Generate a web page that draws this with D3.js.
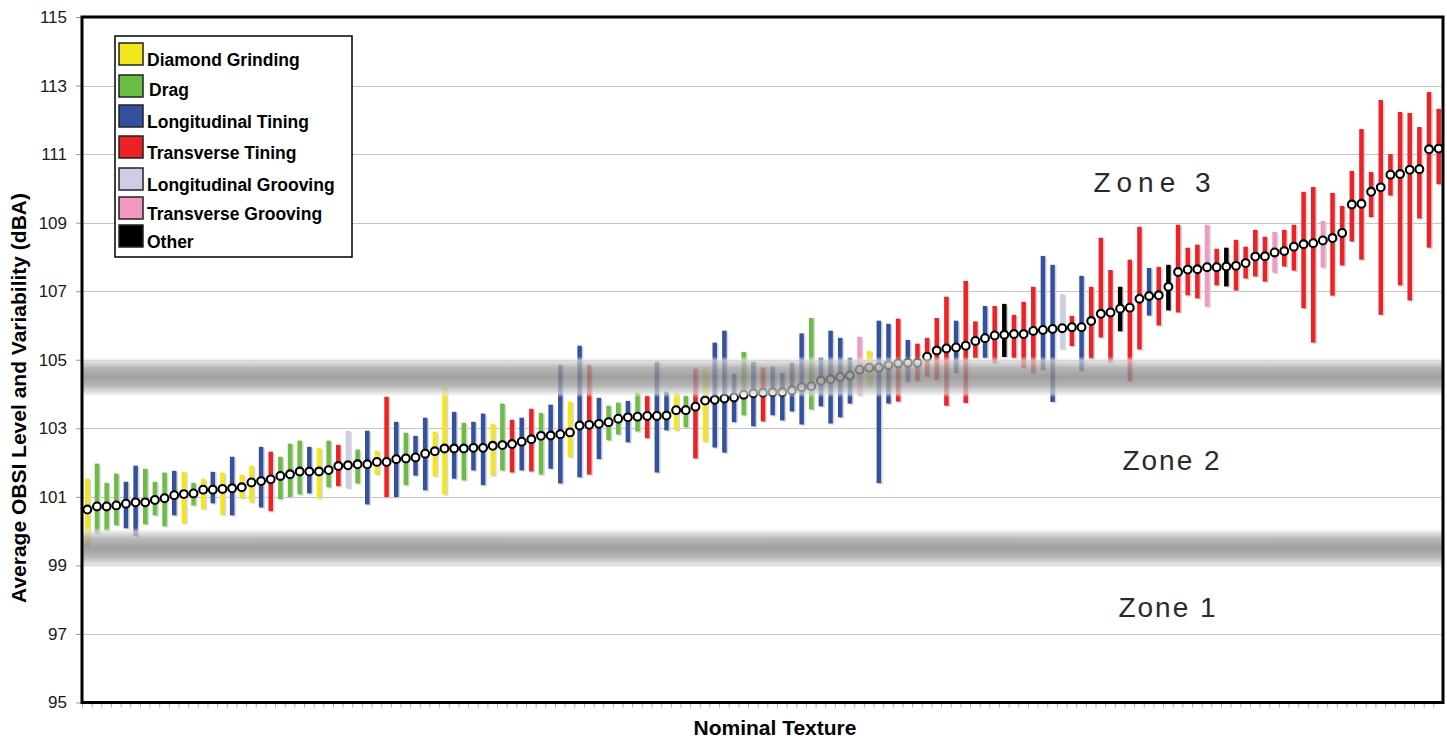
<!DOCTYPE html>
<html>
<head>
<meta charset="utf-8">
<script src="https://cdn.jsdelivr.net/npm/d3@7"></script>
<style>
  body { margin: 0; background: #fff; }
  svg { display: block; }
  text { font-family: "Liberation Sans", Arial, sans-serif; }
</style>
</head>
<body>
<svg id="chart" width="1447" height="738"></svg>
<script>
// average OBSI per section, sorted low -> high
const obsiMean = [
  100.63, 100.72, 100.72, 100.75, 100.80, 100.84, 100.84, 100.91, 100.96, 101.05,
  101.08, 101.10, 101.21, 101.21, 101.23, 101.25, 101.28, 101.42, 101.46, 101.51,
  101.61, 101.66, 101.74, 101.74, 101.74, 101.78, 101.90, 101.92, 101.95, 101.95,
  102.02, 102.02, 102.10, 102.12, 102.15, 102.26, 102.33, 102.41, 102.41, 102.41,
  102.43, 102.43, 102.49, 102.51, 102.54, 102.61, 102.68, 102.78, 102.79, 102.83,
  102.88, 103.08, 103.10, 103.13, 103.18, 103.28, 103.32, 103.34, 103.36, 103.36,
  103.37, 103.53, 103.53, 103.63, 103.81, 103.83, 103.87, 103.90, 103.98, 104.02,
  104.04, 104.05, 104.05, 104.11, 104.20, 104.23, 104.39, 104.43, 104.50, 104.54,
  104.71, 104.77, 104.77, 104.84, 104.89, 104.91, 104.91, 105.09, 105.27, 105.33,
  105.36, 105.41, 105.55, 105.63, 105.71, 105.73, 105.75, 105.75, 105.84, 105.87,
  105.90, 105.92, 105.95, 105.95, 106.13, 106.34, 106.38, 106.49, 106.52, 106.78,
  106.86, 106.88, 107.13, 107.56, 107.63, 107.64, 107.70, 107.70, 107.72, 107.74,
  107.82, 108.01, 108.02, 108.13, 108.17, 108.30, 108.37, 108.40, 108.48, 108.55,
  108.70, 109.53, 109.55, 109.90, 110.03, 110.40, 110.42, 110.54, 110.56, 111.14,
  111.16
];
const obsiHigh = [
  101.53, 101.97, 101.41, 101.68, 101.44, 101.91, 101.82, 101.44, 101.71, 101.76,
  101.73, 101.41, 101.53, 101.73, 101.71, 102.17, 101.65, 101.91, 102.46, 102.32,
  102.17, 102.55, 102.64, 102.46, 102.43, 102.64, 102.52, 102.93, 102.38, 102.93,
  102.35, 103.92, 103.19, 102.87, 102.78, 103.31, 102.90, 104.20, 103.48, 103.16,
  103.19, 103.43, 103.13, 103.72, 103.25, 103.31, 103.57, 103.45, 103.69, 104.85,
  103.78, 105.41, 104.85, 103.89, 103.66, 103.75, 103.80, 104.04, 103.95, 104.94,
  104.07, 104.04, 103.95, 104.74, 104.71, 105.50, 105.85, 104.59, 105.23, 104.94,
  104.78, 104.80, 104.62, 104.91, 105.77, 106.22, 105.06, 105.85, 105.64, 105.06,
  105.67, 105.26, 106.14, 106.05, 106.20, 105.58, 105.47, 105.64, 106.22, 106.84,
  106.14, 107.30, 106.12, 106.57, 106.57, 106.63, 106.31, 106.69, 107.13, 108.03,
  107.77, 106.92, 106.28, 107.45, 107.13, 108.56, 107.62, 107.13, 107.92, 108.88,
  107.68, 107.71, 107.77, 108.94, 108.27, 108.36, 108.94, 108.24, 108.27, 108.50,
  108.30, 108.79, 108.59, 108.73, 108.79, 108.94, 109.90, 110.04, 109.05, 109.87,
  109.49, 110.51, 111.73, 110.48, 112.58, 111.00, 112.23, 112.20, 111.79, 112.81,
  112.32
];
const obsiLow = [
  99.55, 99.93, 100.02, 100.17, 100.08, 99.85, 100.20, 100.46, 100.14, 100.46,
  100.23, 100.75, 100.64, 100.81, 100.48, 100.46, 100.96, 100.84, 100.69, 100.58,
  100.93, 100.99, 101.07, 101.10, 100.96, 101.28, 101.31, 101.25, 101.39, 100.78,
  101.65, 100.99, 100.99, 101.34, 101.62, 101.19, 101.60, 101.07, 101.53, 101.48,
  101.77, 101.34, 101.62, 101.77, 101.71, 101.77, 101.74, 101.65, 101.82, 101.39,
  102.16, 101.57, 101.65, 102.10, 102.65, 102.82, 102.59, 102.91, 102.71, 101.71,
  102.94, 102.94, 103.03, 102.12, 102.61, 102.44, 102.29, 103.18, 103.38, 103.06,
  103.20, 103.38, 103.23, 103.49, 103.11, 103.55, 103.64, 103.14, 103.32, 103.72,
  103.96, 104.22, 101.40, 103.72, 103.78, 104.34, 104.37, 104.51, 104.41, 103.66,
  104.61, 103.74, 105.05, 105.05, 104.90, 105.08, 105.05, 104.76, 104.61, 104.70,
  103.77, 105.31, 105.40, 104.67, 105.03, 105.65, 104.92, 105.83, 104.37, 105.30,
  106.29, 106.00, 106.44, 106.38, 106.88, 106.79, 106.55, 107.17, 107.14, 107.02,
  107.37, 107.43, 107.28, 107.54, 107.72, 107.60, 106.50, 105.50, 107.69, 106.87,
  107.75, 108.45, 107.92, 109.16, 106.31, 109.79, 107.17, 106.73, 109.12, 108.27,
  110.12
];
// DG diamond grinding, DR drag, LT long. tining, TT transverse tining,
// LG long. grooving, TG transverse grooving, OT other
const texture = [
  "DG","DR","DR","DR","LT","LT","DR","DR","DR","LT",
  "DG","DR","DG","LT","DG","LT","DG","DG","LT","TT",
  "DR","DR","DR","LT","DG","DR","TT","LG","DR","LT",
  "DG","TT","LT","DR","LT","LT","DG","DG","LT","DR",
  "LT","LT","DG","DR","TT","LT","TT","DR","LT","LT",
  "DG","LT","TT","LT","DR","DR","LT","DR","TT","LT",
  "LT","DG","DR","TT","DG","LT","LT","LT","DR","LT",
  "TT","LT","LT","LT","LT","DR","LT","LT","LT","LT",
  "TG","DG","LT","LT","TT","LT","TT","TT","TT","TT",
  "LT","TT","TT","LT","TT","OT","TT","TT","TT","LT",
  "LT","LG","TT","LT","TT","TT","TT","OT","TT","TT",
  "LT","TT","OT","TT","TT","TT","TG","TT","OT","TT",
  "TT","TT","TT","TG","TT","TT","TT","TT","TG","TT",
  "TT","TT","TT","TT","TT","TT","TT","TT","TT","TT",
  "TT"
];

const textureKeys = ["DG", "DR", "LT", "TT", "LG", "TG", "OT"];
const textureNames = ["Diamond Grinding", "Drag", "Longitudinal Tining", "Transverse Tining",
  "Longitudinal Grooving", "Transverse Grooving", "Other"];
const textureColors = ["#f3e61c", "#6cbd45", "#3451a0", "#ec2226", "#cdcde6", "#f09ac2", "#000000"];

const yTicks = d3.range(95, 116, 2);
const zoneBands = [[103.9, 105.1], [98.9, 100.1]];
const zoneLabels = ["Zone 3", "Zone 2", "Zone 1"];
const zoneLabelValues = [110.1, 102.0, 97.7];
const zoneLabelCenters = [1155, 1172, 1168];

const svg = d3.select("#chart");
const plot = { left: 82, right: 1443, top: 17, bottom: 702.5 };

const x = d3.scaleBand()
  .domain(d3.range(obsiMean.length))
  .range([plot.left + 0.5, plot.right + 0.5]);
const y = d3.scaleLinear()
  .domain([95, 115])
  .range([plot.bottom, plot.top]);
const color = d3.scaleOrdinal().domain(textureKeys).range(textureColors);

const defs = svg.append("defs");
const grad = defs.append("linearGradient")
  .attr("id", "bandGrad")
  .attr("x1", 0).attr("y1", 0).attr("x2", 0).attr("y2", 1);
[[0, "#ffffff", 0], [0.1, "#dcdcdc", 0.7], [0.28, "#a2a2a2", 0.78], [0.5, "#888888", 0.8],
 [0.72, "#a2a2a2", 0.78], [0.9, "#dcdcdc", 0.7], [1, "#ffffff", 0]]
  .forEach(s => grad.append("stop")
    .attr("offset", s[0]).attr("stop-color", s[1]).attr("stop-opacity", s[2]));

// gridlines
svg.append("g")
  .selectAll("line")
  .data(yTicks.slice(1, -1))
  .join("line")
  .attr("x1", plot.left).attr("x2", plot.right)
  .attr("y1", d => Math.round(y(d)) + 0.5).attr("y2", d => Math.round(y(d)) + 0.5)
  .attr("stroke", "#c4c4c4").attr("stroke-width", 1);

// y axis ticks + labels
const yAxis = svg.append("g")
  .attr("transform", `translate(${plot.left - 1},0)`)
  .call(d3.axisLeft(y).tickValues(yTicks).tickSize(5).tickPadding(9));
yAxis.select(".domain").remove();
yAxis.selectAll(".tick line").attr("stroke", "#9a9a9a");
yAxis.selectAll(".tick text")
  .attr("font-size", 17)
  .attr("fill", "#1a1a1a")
  .attr("font-family", "Liberation Sans, Arial, sans-serif");

// category tick marks along the bottom
svg.append("g")
  .selectAll("line")
  .data(x.domain())
  .join("line")
  .attr("x1", d => x(d)).attr("x2", d => x(d))
  .attr("y1", plot.bottom + 1).attr("y2", plot.bottom + 5)
  .attr("stroke", "#aaa");

const bw = 4.5;
const cx = i => x(i) + x.bandwidth() / 2;

// shadows
svg.append("g")
  .selectAll("rect")
  .data(obsiMean)
  .join("rect")
  .attr("x", (d, i) => cx(i) - bw / 2 + 1.6)
  .attr("y", (d, i) => y(obsiHigh[i]) + 1.2)
  .attr("width", bw)
  .attr("height", (d, i) => y(obsiLow[i]) - y(obsiHigh[i]))
  .attr("fill", "#d6d6d6");

// variability bars
svg.append("g")
  .selectAll("rect")
  .data(obsiMean)
  .join("rect")
  .attr("x", (d, i) => cx(i) - bw / 2)
  .attr("y", (d, i) => y(obsiHigh[i]))
  .attr("width", bw)
  .attr("height", (d, i) => y(obsiLow[i]) - y(obsiHigh[i]))
  .attr("fill", (d, i) => color(texture[i]));

// averages
svg.append("g")
  .selectAll("circle")
  .data(obsiMean)
  .join("circle")
  .attr("cx", (d, i) => cx(i))
  .attr("cy", d => y(d))
  .attr("r", 3.9)
  .attr("fill", "#fff")
  .attr("stroke", "#000")
  .attr("stroke-width", 2.1);

// shaded zone boundaries
svg.append("g")
  .selectAll("rect")
  .data(zoneBands)
  .join("rect")
  .attr("x", plot.left)
  .attr("width", plot.right - plot.left)
  .attr("y", d => y(d[1]))
  .attr("height", d => y(d[0]) - y(d[1]))
  .attr("fill", "url(#bandGrad)");

// plot frame
svg.append("rect")
  .attr("x", plot.left).attr("y", plot.top)
  .attr("width", plot.right - plot.left)
  .attr("height", plot.bottom - plot.top)
  .attr("fill", "none")
  .attr("stroke", "#000")
  .attr("stroke-width", 3);

// zone labels
svg.append("g")
  .selectAll("text")
  .data(zoneLabels)
  .join("text")
  .attr("x", (d, i) => zoneLabelCenters[i])
  .attr("y", (d, i) => y(zoneLabelValues[i]))
  .attr("text-anchor", "middle")
  .attr("dominant-baseline", "middle")
  .attr("font-family", "DejaVu Sans, Verdana, sans-serif")
  .attr("font-size", 28)
  .attr("letter-spacing", (d, i) => i === 0 ? 6 : 2)
  .attr("fill", "#2a2a2a")
  .text(d => d);

// legend
const legend = svg.append("g").attr("transform", "translate(115,36)");
legend.append("rect")
  .attr("width", 237).attr("height", 221)
  .attr("fill", "#fff").attr("stroke", "#000").attr("stroke-width", 1.5);
const rowY = [7, 39, 69, 100, 132, 161, 189];
const item = legend.selectAll("g.item")
  .data(textureKeys)
  .join("g")
  .attr("class", "item")
  .attr("transform", (d, i) => `translate(4,${rowY[i]})`);
item.append("rect")
  .attr("width", 24).attr("height", 22)
  .attr("fill", d => color(d))
  .attr("stroke", "#222").attr("stroke-width", 1.5);
item.append("text")
  .attr("x", (d, i) => i === 1 ? 30 : 28)
  .attr("y", (d, i) => i === 1 ? 21 : 23)
  .attr("font-size", 17.5)
  .attr("font-weight", "bold")
  .attr("fill", "#000")
  .text((d, i) => textureNames[i]);

// axis titles
svg.append("text")
  .attr("transform", "translate(26,398) rotate(-90)")
  .attr("text-anchor", "middle")
  .attr("font-size", 21)
  .attr("font-weight", "bold")
  .text("Average OBSI Level and Variability (dBA)");

svg.append("text")
  .attr("x", 775).attr("y", 735)
  .attr("text-anchor", "middle")
  .attr("font-size", 21)
  .attr("font-weight", "bold")
  .text("Nominal Texture");
</script>
</body>
</html>
